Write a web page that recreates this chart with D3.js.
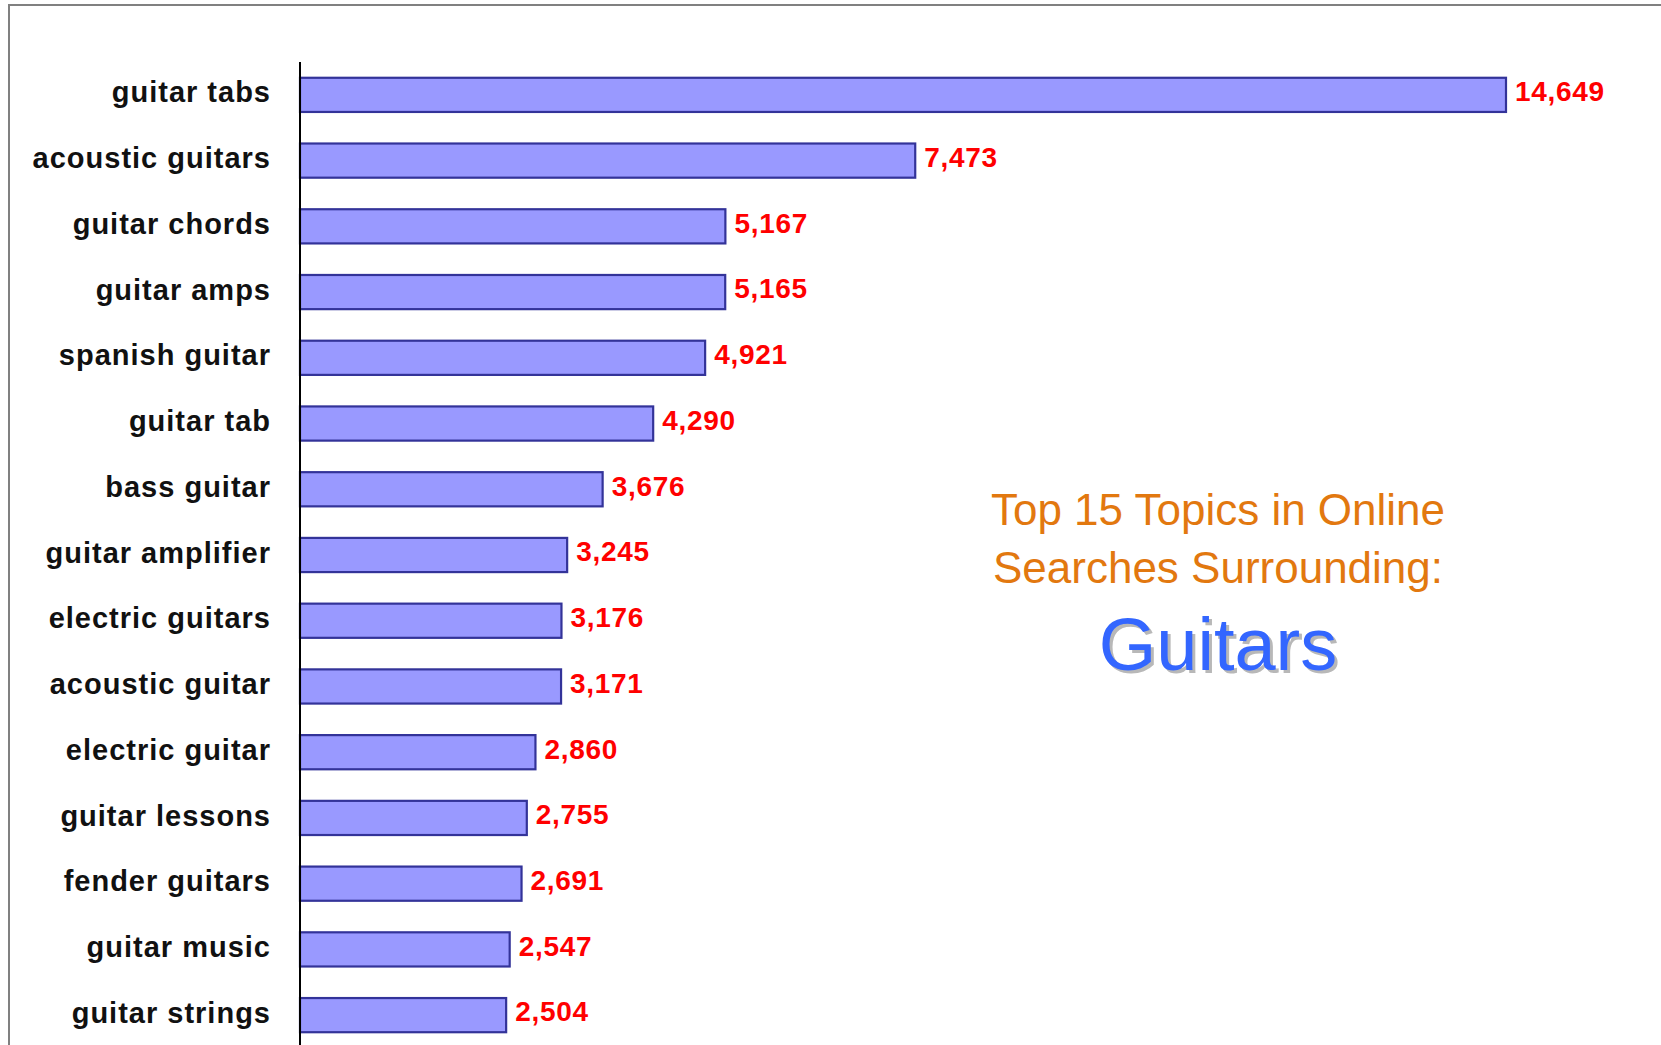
<!DOCTYPE html>
<html>
<head>
<meta charset="utf-8">
<script src="https://cdn.jsdelivr.net/npm/d3@7"></script>
<style>
  html, body { margin: 0; padding: 0; background: #fff; }
  svg { display: block; }
</style>
</head>
<body>
<svg id="chart" width="1661" height="1045"></svg>
<script>
const categories = [
  "guitar tabs", "acoustic guitars", "guitar chords", "guitar amps", "spanish guitar",
  "guitar tab", "bass guitar", "guitar amplifier", "electric guitars", "acoustic guitar",
  "electric guitar", "guitar lessons", "fender guitars", "guitar music", "guitar strings"
];
const values = [14649, 7473, 5167, 5165, 4921, 4290, 3676, 3245, 3176, 3171, 2860, 2755, 2691, 2547, 2504];
const titleLines = ["Top 15 Topics in Online", "Searches Surrounding:"];
const subject = "Guitars";

const data = categories.map((c, i) => ({ name: c, value: values[i] }));
const svg = d3.select("#chart");

// outer frame
svg.append("rect")
  .attr("x", 9).attr("y", 5)
  .attr("width", 1700).attr("height", 1100)
  .attr("fill", "none").attr("stroke", "#808080").attr("stroke-width", 2);

const axisX = 300;
const x = d3.scaleLinear().domain([0, 14649]).range([axisX, 1506]);
const y = d3.scaleBand().domain(categories).range([62, 1048]).paddingInner(0.48).paddingOuter(0.24);

// bars
svg.append("g").selectAll("rect").data(data).join("rect")
  .attr("x", x(0))
  .attr("y", d => y(d.name))
  .attr("width", d => x(d.value) - x(0))
  .attr("height", y.bandwidth())
  .attr("fill", "#9999ff")
  .attr("stroke", "#333399")
  .attr("stroke-width", 2.2);

// category labels
svg.append("g").selectAll("text").data(data).join("text")
  .attr("x", 271)
  .attr("y", d => y(d.name) + y.bandwidth() / 2 - 2)
  .attr("dy", "0.33em")
  .attr("text-anchor", "end")
  .attr("font-family", "'Liberation Sans', Arial, sans-serif")
  .attr("font-weight", "bold")
  .attr("font-size", 29)
  .attr("letter-spacing", 1)
  .attr("fill", "#111")
  .text(d => d.name);

// value labels
const fmt = d3.format(",");
svg.append("g").selectAll("text").data(data).join("text")
  .attr("x", d => x(d.value) + 9)
  .attr("y", d => y(d.name) + y.bandwidth() / 2 - 1.5)
  .attr("dy", "0.28em")
  .attr("font-family", "'Liberation Sans', Arial, sans-serif")
  .attr("font-weight", "bold")
  .attr("font-size", 28)
  .attr("letter-spacing", 0.7)
  .attr("fill", "#ff0000")
  .text(d => fmt(d.value));

// axis line
svg.append("line")
  .attr("x1", axisX).attr("x2", axisX)
  .attr("y1", 62).attr("y2", 1045)
  .attr("stroke", "#000").attr("stroke-width", 2);

// title
const cx = 1218;
svg.append("g").selectAll("text").data(titleLines).join("text")
  .attr("x", cx)
  .attr("y", (d, i) => 525 + i * 58)
  .attr("text-anchor", "middle")
  .attr("font-family", "'Liberation Sans', Arial, sans-serif")
  .attr("font-size", 44)
  .attr("fill", "#e2780f")
  .text(d => d);

svg.append("text")
  .attr("x", cx + 3).attr("y", 673)
  .attr("text-anchor", "middle")
  .attr("font-family", "'Liberation Sans', Arial, sans-serif")
  .attr("font-size", 74)
  .attr("fill", "#b8b8b8")
  .text(subject);
svg.append("text")
  .attr("x", cx).attr("y", 670)
  .attr("text-anchor", "middle")
  .attr("font-family", "'Liberation Sans', Arial, sans-serif")
  .attr("font-size", 74)
  .attr("fill", "#3366ff")
  .text(subject);
</script>
</body>
</html>
